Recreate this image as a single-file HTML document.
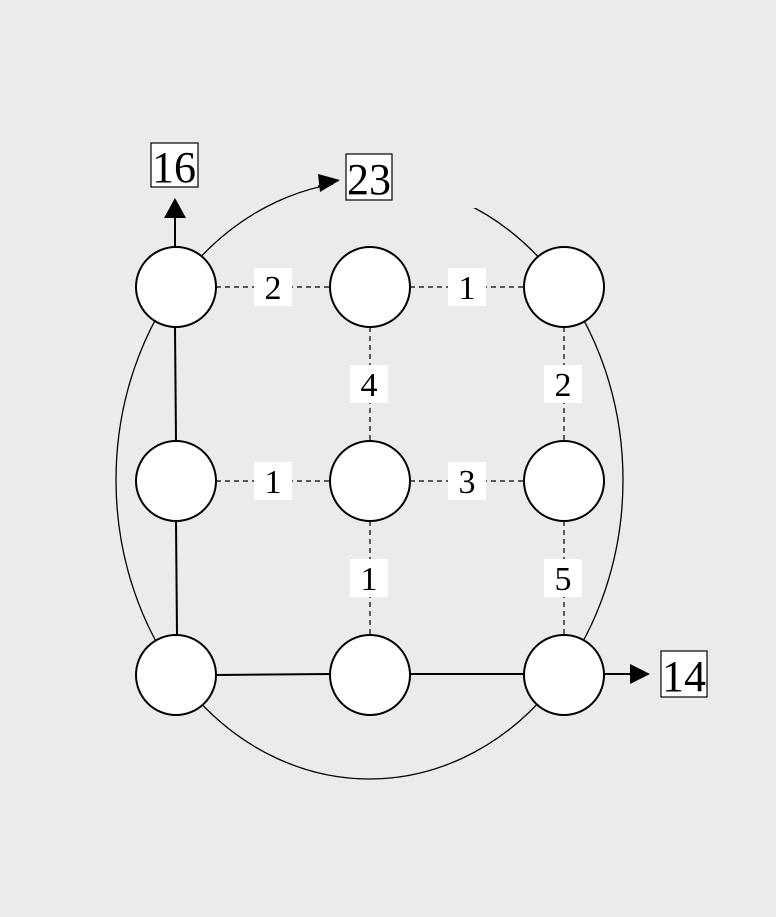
<!DOCTYPE html>
<html><head><style>
body{margin:0;background:#ebebeb;}
svg{display:block;}
text{font-family:"Liberation Serif",serif;}
</style></head><body>
<svg width="776" height="917" viewBox="0 0 776 917">
<ellipse cx="369.5" cy="480" rx="253.5" ry="299" fill="none" stroke="#000" stroke-width="1.3"/>
<rect x="333" y="170" width="145" height="38" fill="#ebebeb"/>
<path d="M318 186 L338 181" stroke="#000" stroke-width="1.3"/>
<path d="M318 174 L340 180 L320 192 z"/>
<g stroke="#000" stroke-width="1.2" stroke-dasharray="5,4">
<line x1="216" y1="287" x2="330" y2="287"/><line x1="410" y1="287" x2="524" y2="287"/>
<line x1="216" y1="481" x2="330" y2="481"/><line x1="410" y1="481" x2="524" y2="481"/>
<line x1="370" y1="327" x2="370" y2="441"/><line x1="564" y1="327" x2="564" y2="441"/>
<line x1="370" y1="521" x2="370" y2="635"/><line x1="564" y1="521" x2="564" y2="635"/>
</g>
<g stroke="#000" stroke-width="2" fill="none">
<line x1="175" y1="247" x2="175" y2="218"/>
<line x1="175" y1="327" x2="176" y2="441"/>
<line x1="176" y1="521" x2="177" y2="635"/>
<line x1="216" y1="675" x2="330" y2="674"/>
<line x1="410" y1="674" x2="524" y2="674"/>
<line x1="604" y1="674" x2="630" y2="674"/>
</g>
<path d="M164 218 L175 198 L186 218 z"/>
<path d="M630 664 L650 674 L630 684 z"/>
<g fill="#fff">
<rect x="254" y="268" width="38" height="38"/><rect x="448" y="268" width="38" height="38"/>
<rect x="254" y="462" width="38" height="38"/><rect x="448" y="462" width="38" height="38"/>
<rect x="350" y="365" width="38" height="38"/><rect x="544" y="365" width="38" height="38"/>
<rect x="350" y="559" width="38" height="38"/><rect x="544" y="559" width="38" height="38"/>
</g>
<g font-size="34" text-anchor="middle">
<text x="273" y="299">2</text><text x="467" y="299">1</text>
<text x="273" y="493">1</text><text x="467" y="493">3</text>
<text x="369" y="396">4</text><text x="563" y="396">2</text>
<text x="369" y="590">1</text><text x="563" y="590">5</text>
</g>
<g fill="#fff" stroke="#000" stroke-width="2">
<circle cx="176" cy="287" r="40"/><circle cx="370" cy="287" r="40"/><circle cx="564" cy="287" r="40"/>
<circle cx="176" cy="481" r="40"/><circle cx="370" cy="481" r="40"/><circle cx="564" cy="481" r="40"/>
<circle cx="176" cy="675" r="40"/><circle cx="370" cy="675" r="40"/><circle cx="564" cy="675" r="40"/>
</g>
<g fill="#fff" stroke="#000" stroke-width="1.2">
<rect x="151" y="143" width="47" height="44"/><rect x="346" y="154" width="46" height="46"/><rect x="661" y="651" width="46" height="46"/>
</g>
<g font-size="44" text-anchor="middle">
<text x="174" y="182">16</text><text x="369" y="194">23</text><text x="684" y="691">14</text>
</g>
</svg>
</body></html>
